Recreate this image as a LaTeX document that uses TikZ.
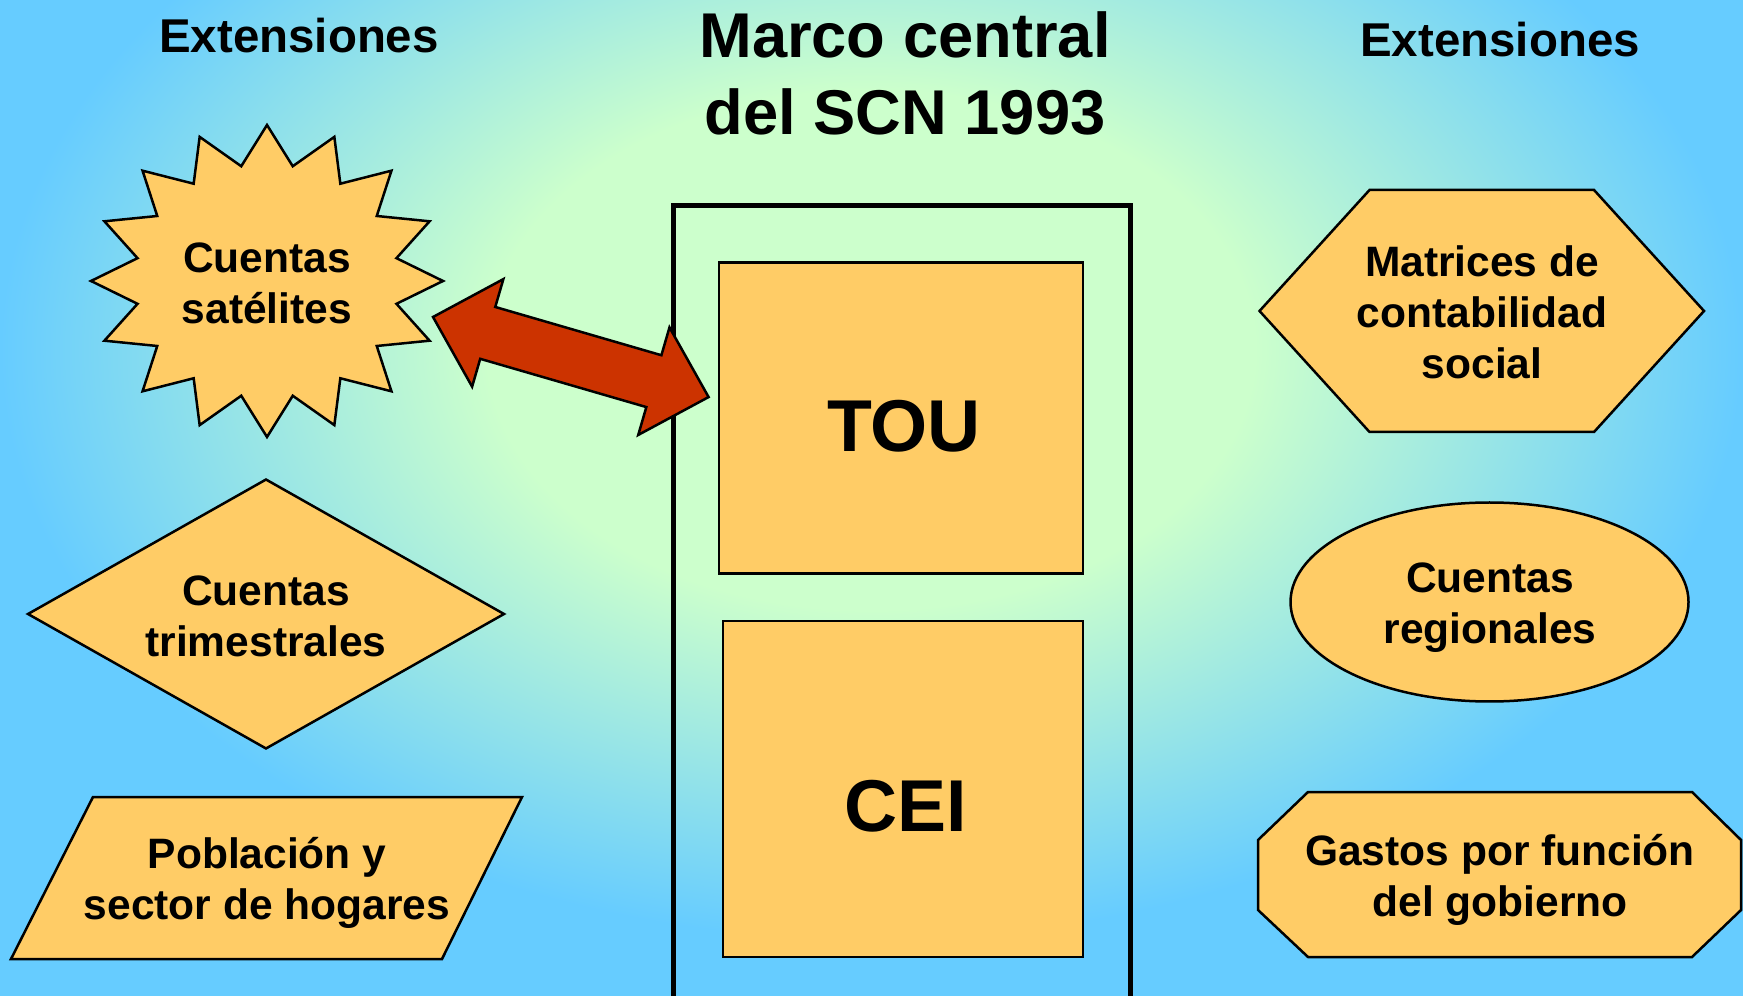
\documentclass[tikz,border=0pt]{standalone}
\usepackage{fontspec}
\setmainfont{Liberation Sans}
\usetikzlibrary{shapes.geometric}

\definecolor{bgblue}{HTML}{66CCFF}
\definecolor{bggreen}{HTML}{CCFFCC}
\definecolor{boxorange}{HTML}{FFCC66}
\definecolor{arrowred}{HTML}{CC3300}

% background glow, pale green in the middle, blue outside
\pgfdeclareradialshading{bgglow}{\pgfpoint{0bp}{0bp}}{color(0bp)=(bggreen); color(11bp)=(bggreen); color(25bp)=(bgblue); color(50bp)=(bgblue)}

\tikzset{
  shp/.style={draw=black, line width=0.25mm, fill=boxorange},
  lbl/.style={font=\bfseries\fontsize{12.1}{14.5}\selectfont, align=center, inner sep=0pt},
  ttl/.style={font=\bfseries\fontsize{13.5}{16}\selectfont, inner sep=0pt, anchor=base},
  bigttl/.style={font=\bfseries\fontsize{18}{21.8}\selectfont, inner sep=0pt, align=center},
  corelbl/.style={font=\bfseries\fontsize{20.9}{24}\selectfont, inner sep=0pt},
  corebox/.style={shp, rectangle, inner sep=0pt},
  bigarrow/.style={draw=black, line width=0.25mm, fill=arrowred}
}

\begin{document}
\begin{tikzpicture}[x=0.1mm, y=-0.1mm]
        \useasboundingbox (0,0) rectangle (1743,996);
        \clip (0,0) rectangle (1743,996);
        \fill[bgblue] (0,0) rectangle (1743,996);
        \shade[shading=bgglow] (871,350) ellipse [x radius=871, y radius=590];

        % titles
        \node[ttl] (ext-l) at (299,53) {Extensiones};
        \node[ttl] (ext-r) at (1500,57) {Extensiones};
        \node[bigttl, anchor=north] (marco) at (905,11) {Marco central\\del SCN 1993};

        % central frame with its two boxes
        \draw[line width=0.5mm] (673,1010) -- (673,205.5) -- (1130.5,205.5) -- (1130.5,1010);
        \node[corebox, minimum width=36.4mm, minimum height=31.1mm] (tou) at (901,418) {};
        \node[corebox, minimum width=36mm, minimum height=33.6mm] (cei) at (903,789) {};
        \node[corelbl] (tou-t) at (904,426) {TOU};
        \node[corelbl] (cei-t) at (906,806) {CEI};

        % left extensions
        \coordinate (sat-c) at (267,281);
        \draw[shp, shift={(sat-c)}] plot[samples at={90,101.25,...,438.75}]
            ({176*(0.875+0.125*cos(16*\x))*cos(\x)}, {156*(0.875+0.125*cos(16*\x))*sin(\x)}) -- cycle;
        \node[lbl] (sat) at (267,283) {Cuentas\\sat\'elites};

        \node[shp, diamond, minimum width=47.7mm, minimum height=27mm, inner sep=0pt] (trim) at (266,614) {};
        \node[lbl] (trim-t) at (266,616) {Cuentas\\trimestrales};

        \draw[shp] (93,797) -- (522,797) -- (442,959) -- (11,959) -- cycle;
        \node[lbl] (pob) at (267,883) {Poblaci\'on y\\sector de hogares};

        % right extensions
        \draw[shp] (1259.5,311) -- (1369.5,190) -- (1594,190) -- (1704,311) -- (1594,432) -- (1369.5,432) -- cycle;
        \node[lbl] (mcs) at (1482,312) {Matrices de\\contabilidad\\social};

        \node[shp, ellipse, minimum width=39.8mm, minimum height=19.9mm, inner sep=0pt] (reg) at (1489.5,602) {};
        \node[lbl] (reg-t) at (1490,608) {Cuentas\\regionales};

        \draw[shp] (1308,792) -- (1692,792) -- (1741,840) -- (1741,910) -- (1692,957) -- (1308,957) -- (1258,910) -- (1258,840) -- cycle;
        \node[lbl] (gob) at (1500,880) {Gastos por funci\'on\\del gobierno};

        % link between satellite accounts and the core
        \coordinate (link-a) at (433,317);
        \coordinate (link-b) at (709,397);
        \begin{scope}[shift={(link-a)}, rotate=-16.2]
          \draw[bigarrow] (0,0) -- (57,56) -- (57,27) -- (230,27) -- (230,56) -- (287,0)
              -- (230,-56) -- (230,-27) -- (57,-27) -- (57,-56) -- cycle;
        \end{scope}
\end{tikzpicture}
\end{document}
